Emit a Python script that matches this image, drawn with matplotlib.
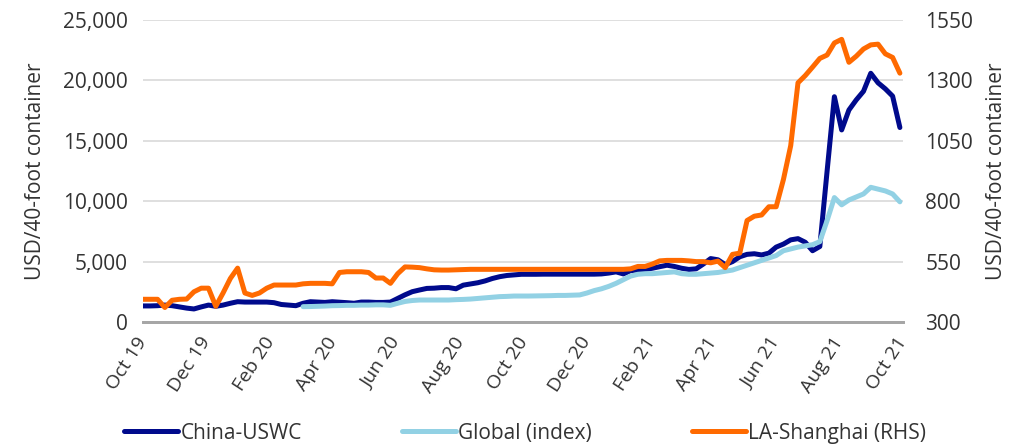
import pandas as pd
import numpy as np
import matplotlib
matplotlib.use("Agg")
import matplotlib.pyplot as plt
import matplotlib.dates as mdates
import matplotlib.transforms as mtransforms
from matplotlib.ticker import FuncFormatter

plt.rcParams["font.family"] = ["Open Sans", "DejaVu Sans"]

# weekly readings, Oct 2019 - end Sep 2021
start_date = "2019-10-01"
n_weeks = 105

china_uswc = [
    1330, 1330, 1350, 1400, 1350, 1250, 1150, 1080, 1250, 1400,
    1300, 1400, 1550, 1680, 1650, 1650, 1650, 1650, 1600, 1450,
    1400, 1350, 1550, 1680, 1650, 1620, 1680, 1640, 1600, 1550,
    1650, 1650, 1620, 1620, 1650, 1950, 2250, 2510, 2650, 2780,
    2800, 2850, 2850, 2750, 3050, 3150, 3250, 3400, 3600, 3750,
    3850, 3900, 3950, 3950, 3950, 3960, 3960, 3960, 3960, 3960,
    3960, 3960, 3960, 3980, 4050, 4150, 3980, 4250, 4300, 4350,
    4450, 4580, 4700, 4600, 4450, 4350, 4400, 4800, 5250, 5150,
    4750, 5000, 5400, 5600, 5650, 5550, 5700, 6200, 6450, 6800,
    6900, 6600, 5900, 6250, 12500, 18650, 15900, 17550, 18380, 19100,
    20590, 19800, 19300, 18700, 16100,
]

# Global index starts in week 22 (early Mar 2020)
global_offset = 22
global_index = [
    1270, 1280, 1300, 1320, 1350, 1360, 1380, 1380,
    1400, 1400, 1420, 1420, 1380, 1550, 1700, 1780, 1820, 1820,
    1820, 1820, 1820, 1850, 1870, 1900, 1950, 2000, 2050, 2100,
    2120, 2150, 2150, 2150, 2160, 2170, 2180, 2200, 2200, 2220,
    2240, 2400, 2600, 2750, 2950, 3200, 3500, 3800, 3950, 4000,
    4000, 4050, 4100, 4150, 4000, 3950, 3950, 4000, 4050, 4100,
    4200, 4300, 4500, 4700, 4900, 5100, 5300, 5500, 5900, 6050,
    6200, 6300, 6400, 6650, 8400, 10300, 9700, 10100, 10350, 10600,
    11150, 11000, 10850, 10600, 9950,
]

la_shanghai = [
    394, 394, 394, 360, 390, 394, 395, 425, 440, 440,
    365, 420, 480, 523, 420, 410, 420, 440, 453, 453,
    453, 453, 458, 460, 460, 460, 458, 505, 508, 508,
    508, 505, 482, 482, 460, 500, 528, 527, 525, 520,
    516, 515, 515, 516, 517, 518, 518, 518, 518, 518,
    518, 518, 518, 518, 518, 518, 518, 518, 518, 518,
    518, 518, 518, 518, 518, 518, 518, 520, 530, 530,
    540, 553, 555, 555, 555, 553, 550, 550, 545, 552,
    525, 580, 585, 720, 738, 743, 777, 777, 890, 1030,
    1290, 1320, 1355, 1391, 1405, 1455, 1470, 1375, 1400, 1430,
    1447, 1450, 1410, 1395, 1330,
]

dates = pd.date_range(start_date, periods=n_weeks, freq="7D")

c_navy = "#000a8c"
c_light = "#92d1e4"
c_orange = "#ff6a00"
txt = "#333333"
fs = 15

fig = plt.figure(figsize=(10.17, 4.48), dpi=100)
ax = fig.add_axes([143 / 1017, 1 - 322 / 448, 760 / 1017, 302 / 448])
ax2 = ax.twinx()

l1, = ax.plot(dates, china_uswc, color=c_navy, lw=3.6, label="China-USWC",
              solid_capstyle="round", zorder=3)
l2, = ax.plot(dates[global_offset:], global_index, color=c_light, lw=3.6,
              label="Global (index)", solid_capstyle="round", zorder=4)
l3, = ax2.plot(dates, la_shanghai, color=c_orange, lw=3.6,
               label="LA-Shanghai (RHS)", solid_capstyle="round")

ax.set_xlim(pd.Timestamp("2019-10-01"), pd.Timestamp("2021-10-01"))
ax.set_ylim(0, 25000)
ax.set_yticks(np.arange(0, 25001, 5000))
ax.yaxis.set_major_formatter(FuncFormatter(lambda v, p: f"{int(v):,}"))
ax2.set_ylim(300, 1550)
ax2.set_yticks(np.arange(300, 1551, 250))

ax.xaxis.set_major_locator(mdates.MonthLocator(bymonth=[2, 4, 6, 8, 10, 12]))
ax.xaxis.set_major_formatter(mdates.DateFormatter("%b %y"))
shift = mtransforms.ScaledTranslation(7 / 100, 0, fig.dpi_scale_trans)
for lbl in ax.get_xticklabels():
    lbl.set_rotation(57)
    lbl.set_ha("right")
    lbl.set_va("center")
    lbl.set_rotation_mode("anchor")
    lbl.set_fontsize(14)
    lbl.set_transform(lbl.get_transform() + shift)

ax.grid(axis="y", color="#d9d9d9", lw=1.2)
ax.set_axisbelow(True)
for a in (ax, ax2):
    for s in ("top", "left", "right"):
        a.spines[s].set_visible(False)
    a.spines["bottom"].set_color("#a6a6a6")
    a.spines["bottom"].set_linewidth(2)
    a.tick_params(length=0, labelsize=fs, colors=txt)
ax.tick_params(axis="x", labelsize=14, pad=12)
ax.tick_params(axis="y", pad=11)
ax2.tick_params(axis="y", pad=16)

ax.set_ylabel("USD/40-foot container", fontsize=fs, color=txt, labelpad=12)
ax2.set_ylabel("USD/40-foot container", fontsize=fs, color=txt, labelpad=9)

fig.legend(handles=[l1, l2, l3], loc="center", ncol=3,
           bbox_to_anchor=(525 / 1017, 1 - 433 / 448), frameon=False,
           fontsize=fs, handlelength=2.6, handletextpad=0.1,
           columnspacing=4.8, labelcolor=txt)

fig.savefig("out.png", dpi=100)
